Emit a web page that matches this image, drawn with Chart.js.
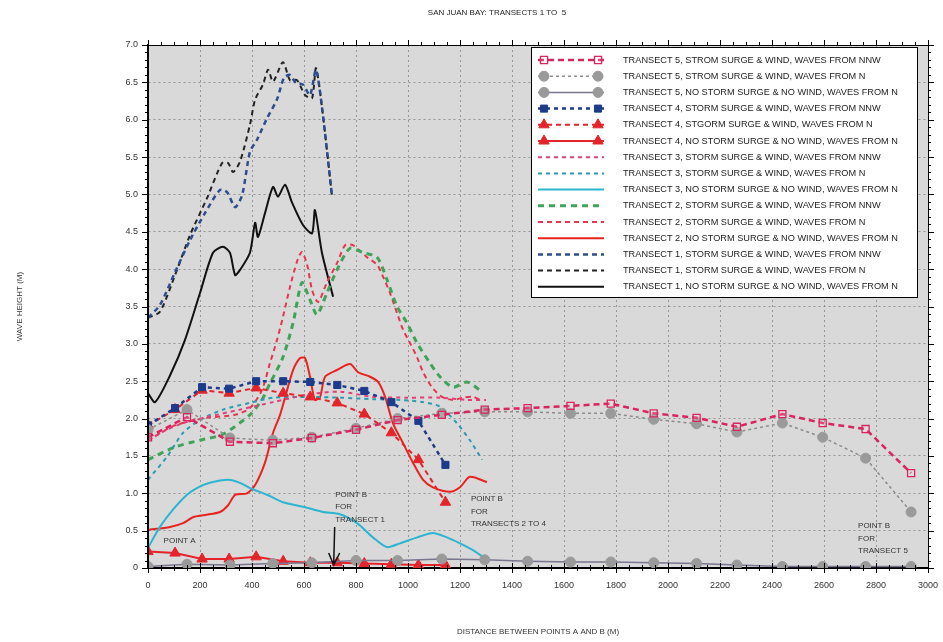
<!DOCTYPE html>
<html>
<head>
<meta charset="utf-8">
<title>San Juan Bay: Transects 1 to 5</title>
<script src="https://cdn.jsdelivr.net/npm/chart.js@4.4.1/dist/chart.umd.min.js"></script>
<style>
  html, body { margin: 0; padding: 0; background: #fff; }
  #wrap { width: 943px; height: 642px; }
</style>
</head>
<body>
<div id="wrap"><canvas id="waveChart"></canvas></div>
<script>
// distances (m) and wave heights (m)
const t5Dist = [0, 150, 315, 480, 630, 800, 960, 1130, 1295, 1460, 1625, 1780, 1945, 2110, 2265, 2440, 2595, 2760, 2935];
const t5NNW = [1.75, 2.02, 1.69, 1.67, 1.74, 1.85, 1.98, 2.05, 2.12, 2.14, 2.17, 2.20, 2.07, 2.01, 1.89, 2.06, 1.94, 1.86, 1.27];
const t5N = [1.85, 2.12, 1.74, 1.71, 1.75, 1.87, 2.00, 2.07, 2.09, 2.09, 2.07, 2.07, 1.99, 1.93, 1.82, 1.94, 1.75, 1.47, 0.75];
const t5Calm = [0.02, 0.05, 0.04, 0.06, 0.07, 0.10, 0.10, 0.12, 0.11, 0.09, 0.08, 0.08, 0.07, 0.06, 0.04, 0.02, 0.02, 0.02, 0.02];

const t4Dist = [0, 104, 208, 312, 416, 520, 624, 728, 832, 936, 1040, 1144];
const t4NNW = [1.91, 2.14, 2.42, 2.40, 2.50, 2.50, 2.49, 2.45, 2.37, 2.22, 1.97, 1.38];
const t4N = [1.91, 2.12, 2.38, 2.34, 2.41, 2.34, 2.29, 2.21, 2.06, 1.81, 1.45, 0.88];
const t4Calm = [0.22, 0.20, 0.12, 0.12, 0.15, 0.09, 0.07, 0.07, 0.06, 0.05, 0.04, 0.04];

const t3NNWDist = [0, 73, 135, 227, 354, 481, 612, 738, 865, 996, 1123, 1227, 1300];
const t3NNW = [1.71, 1.85, 1.94, 2.02, 2.12, 2.22, 2.32, 2.36, 2.29, 2.28, 2.28, 2.25, 2.25];
const t3NDist = [0, 73, 135, 200, 288, 392, 481, 612, 738, 865, 969, 1058, 1123, 1188, 1238, 1285];
const t3N = [1.18, 1.49, 1.81, 1.98, 2.12, 2.21, 2.28, 2.29, 2.28, 2.26, 2.25, 2.22, 2.16, 1.94, 1.71, 1.45];
const t3CalmDist = [0, 46, 96, 150, 188, 238, 308, 354, 392, 458, 519, 596, 673, 738, 804, 865, 919, 969, 1035, 1096, 1150, 1200, 1250, 1288];
const t3Calm = [0.27, 0.55, 0.78, 0.98, 1.07, 1.14, 1.18, 1.14, 1.07, 0.98, 0.88, 0.82, 0.75, 0.72, 0.60, 0.41, 0.28, 0.33, 0.41, 0.47, 0.41, 0.33, 0.24, 0.15];

const t2NNWDist = [0, 104, 200, 288, 392, 438, 469, 519, 558, 592, 623, 650, 688, 727, 777, 827, 881, 919, 958, 996, 1035, 1085, 1123, 1173, 1227, 1277];
const t2NNW = [1.45, 1.62, 1.71, 1.79, 2.05, 2.25, 2.47, 2.82, 3.28, 3.82, 3.59, 3.39, 3.68, 3.99, 4.28, 4.22, 4.16, 3.86, 3.50, 3.28, 3.01, 2.74, 2.56, 2.42, 2.49, 2.38];
const t2NDist = [0, 104, 227, 335, 392, 438, 469, 496, 519, 546, 573, 592, 612, 631, 654, 688, 727, 758, 788, 842, 881, 904, 931, 958, 981, 1008, 1035, 1058, 1092, 1131, 1173, 1212, 1250, 1277];
const t2N = [1.71, 1.91, 2.01, 2.05, 2.14, 2.38, 2.74, 3.05, 3.36, 3.76, 4.10, 4.23, 4.06, 3.72, 3.56, 3.82, 4.08, 4.32, 4.32, 4.16, 4.06, 3.90, 3.68, 3.41, 3.19, 3.01, 2.82, 2.62, 2.42, 2.29, 2.25, 2.28, 2.29, 2.25];
const t2CalmDist = [0, 85, 135, 173, 219, 277, 308, 335, 381, 412, 450, 481, 508, 535, 558, 585, 604, 623, 642, 662, 681, 727, 777, 808, 854, 885, 912, 942, 981, 1019, 1058, 1096, 1162, 1200, 1238, 1304];
const t2Calm = [0.51, 0.55, 0.60, 0.68, 0.71, 0.75, 0.84, 0.98, 1.00, 1.11, 1.41, 1.81, 2.05, 2.38, 2.65, 2.81, 2.81, 2.56, 2.25, 2.29, 2.56, 2.65, 2.73, 2.62, 2.56, 2.49, 2.29, 1.94, 1.67, 1.41, 1.18, 1.08, 1.02, 1.08, 1.22, 1.15];

const t1NNWDist = [0, 46, 104, 162, 219, 277, 304, 335, 362, 392, 419, 458, 496, 523, 546, 569, 596, 623, 646, 669, 708];
const t1NNW = [3.35, 3.52, 3.96, 4.39, 4.75, 5.06, 5.03, 4.83, 4.99, 5.57, 5.73, 6.02, 6.27, 6.56, 6.60, 6.49, 6.47, 6.33, 6.67, 6.17, 4.97];
const t1NDist = [0, 46, 104, 162, 227, 285, 308, 327, 354, 392, 412, 442, 462, 481, 519, 546, 573, 604, 631, 646, 669, 708];
const t1N = [3.35, 3.43, 3.92, 4.46, 4.95, 5.42, 5.42, 5.30, 5.44, 5.93, 6.27, 6.47, 6.67, 6.51, 6.77, 6.53, 6.53, 6.33, 6.29, 6.69, 6.17, 4.97];
const t1CalmDist = [0, 27, 85, 142, 200, 250, 288, 315, 335, 354, 392, 412, 423, 450, 481, 500, 527, 554, 596, 631, 642, 669, 712];
const t1Calm = [2.34, 2.22, 2.58, 3.05, 3.68, 4.22, 4.30, 4.22, 3.92, 3.99, 4.22, 4.62, 4.43, 4.75, 5.10, 4.97, 5.13, 4.89, 4.59, 4.48, 4.79, 4.22, 3.63];

const xTicks = { min: 0, max: 3000, step: 200, minor: 50 };
const yTicks = { min: 0, max: 7, step: 0.5, minor: 0.1 };

const FONT = '"Liberation Sans", Arial, sans-serif';
const pairs = (xs, ys) => xs.map((x, i) => ({ x: x, y: ys[i] }));

function series(label, xs, ys, color, dash, width, marker) {
  const ds = {
    label: label,
    data: pairs(xs, ys),
    borderColor: color,
    borderWidth: width,
    borderDash: dash,
    tension: marker ? 0 : 0.25,
    pointRadius: 0,
    fill: false
  };
  if (marker) {
    ds.pointStyle = marker.style;
    ds.pointRadius = marker.radius;
    ds.pointBackgroundColor = marker.fill;
    ds.pointBorderColor = marker.stroke;
    ds.pointBorderWidth = marker.border;
  }
  return ds;
}

const openSquare = { style: 'rect', radius: 5, fill: 'rgba(255,255,255,0.15)', stroke: '#d9245e', border: 1.3 };
const grayDot = { style: 'circle', radius: 5, fill: '#9a9a9a', stroke: '#9a9a9a', border: 1 };
const blueSquare = { style: 'rect', radius: 5, fill: '#1c3b8a', stroke: '#1c3b8a', border: 1 };
const redTriangle = { style: 'triangle', radius: 6, fill: '#e3242b', stroke: '#e3242b', border: 1 };

const datasets = [
  series('TRANSECT 5, STROM SURGE & WIND, WAVES FROM NNW', t5Dist, t5NNW, '#d9245e', [6, 4], 2.5, openSquare),
  series('TRANSECT 5, STROM SURGE & WIND, WAVES FROM N', t5Dist, t5N, '#8c8c8c', [3, 3], 1.5, grayDot),
  series('TRANSECT 5, NO STORM SURGE & NO WIND, WAVES FROM N', t5Dist, t5Calm, '#7a7590', [], 1.5, grayDot),
  series('TRANSECT 4, STORM SURGE & WIND, WAVES FROM NNW', t4Dist, t4NNW, '#1f3c88', [4, 4], 2.5, blueSquare),
  series('TRANSECT 4, STGORM SURGE & WIND, WAVES FROM N', t4Dist, t4N, '#e3242b', [5, 4], 2, redTriangle),
  series('TRANSECT 4, NO STORM SURGE & NO WIND, WAVES FROM N', t4Dist, t4Calm, '#e3242b', [], 2, redTriangle),
  series('TRANSECT 3, STORM SURGE & WIND, WAVES FROM NNW', t3NNWDist, t3NNW, '#e0407a', [4, 4], 2, null),
  series('TRANSECT 3, STORM SURGE & WIND, WAVES FROM N', t3NDist, t3N, '#2a9bb0', [4, 4], 2, null),
  series('TRANSECT 3, NO STORM SURGE & NO WIND, WAVES FROM N', t3CalmDist, t3Calm, '#2bb5d0', [], 2, null),
  series('TRANSECT 2, STORM SURGE & WIND, WAVES FROM NNW', t2NNWDist, t2NNW, '#3fa457', [6, 5], 3, null),
  series('TRANSECT 2, STORM SURGE & WIND, WAVES FROM N', t2NDist, t2N, '#e8344e', [5, 4], 2, null),
  series('TRANSECT 2, NO STORM SURGE & NO WIND, WAVES FROM N', t2CalmDist, t2Calm, '#e8231f', [], 2, null),
  series('TRANSECT 1, STORM SURGE & WIND, WAVES FROM NNW', t1NNWDist, t1NNW, '#2c4d8f', [5, 4], 2.5, null),
  series('TRANSECT 1, STORM SURGE & WIND, WAVES FROM N', t1NDist, t1N, '#222222', [5, 4], 2, null),
  series('TRANSECT 1, NO STORM SURGE & NO WIND, WAVES FROM N', t1CalmDist, t1Calm, '#111111', [], 2, null)
];

// text notes on the plot, anchored in data units
const notes = [
  { x: 60, y: 0.37, lines: ['POINT A'] },
  { x: 720, y: 0.98, lines: ['POINT B', 'FOR', 'TRANSECT 1'] },
  { x: 1242, y: 0.92, lines: ['POINT B', 'FOR', 'TRANSECTS 2 TO 4'] },
  { x: 2731, y: 0.56, lines: ['POINT B', 'FOR', 'TRANSECT 5'] }
];
const arrow = { x: 718, from: 0.55, to: 0.04 };

const plotBackground = {
  id: 'plotBackground',
  beforeDraw(chart) {
    const { ctx, chartArea: a } = chart;
    ctx.save();
    ctx.fillStyle = '#d9d9d9';
    ctx.fillRect(a.left, a.top, a.right - a.left, a.bottom - a.top);
    ctx.restore();
  }
};

const frameTicks = {
  id: 'frameTicks',
  afterDraw(chart) {
    const { ctx, chartArea: a, scales: { x, y } } = chart;
    ctx.save();
    ctx.strokeStyle = '#000';
    ctx.lineWidth = 1;
    ctx.strokeRect(a.left + 0.5, a.top + 0.5, a.right - a.left, a.bottom - a.top);
    ctx.beginPath();
    const nx = Math.round((xTicks.max - xTicks.min) / xTicks.minor);
    for (let k = 0; k <= nx; k++) {
      const v = xTicks.min + k * xTicks.minor;
      const px = Math.round(x.getPixelForValue(v)) + 0.5;
      const len = (v % xTicks.step === 0) ? 5 : 3;
      ctx.moveTo(px, a.bottom - len); ctx.lineTo(px, a.bottom + len);
      ctx.moveTo(px, a.top); ctx.lineTo(px, a.top - len);
    }
    const ny = Math.round((yTicks.max - yTicks.min) / yTicks.minor);
    for (let k = 0; k <= ny; k++) {
      const py = Math.round(y.getPixelForValue(yTicks.min + k * yTicks.minor)) + 0.5;
      const len = (k % 5 === 0) ? 6 : 3;
      ctx.moveTo(a.left - len, py); ctx.lineTo(a.left, py);
      ctx.moveTo(a.right, py); ctx.lineTo(a.right + len, py);
    }
    ctx.stroke();
    ctx.restore();
  }
};

const plotNotes = {
  id: 'plotNotes',
  afterDatasetsDraw(chart) {
    const { ctx, scales: { x, y } } = chart;
    ctx.save();
    ctx.fillStyle = '#333';
    ctx.font = '8px ' + FONT;
    ctx.textBaseline = 'middle';
    notes.forEach(n => {
      const px = x.getPixelForValue(n.x);
      const py = y.getPixelForValue(n.y);
      n.lines.forEach((t, i) => ctx.fillText(t, px, py + i * 12.5));
    });
    const ax = x.getPixelForValue(arrow.x);
    const y0 = y.getPixelForValue(arrow.from);
    const y1 = y.getPixelForValue(arrow.to);
    ctx.strokeStyle = '#111';
    ctx.lineWidth = 1.5;
    ctx.beginPath();
    ctx.moveTo(ax, y0); ctx.lineTo(ax - 1, y1);
    ctx.moveTo(ax - 6, y1 - 12); ctx.lineTo(ax - 1, y1); ctx.lineTo(ax + 5, y1 - 12);
    ctx.stroke();

    // title over the plot
    ctx.fillStyle = '#222';
    ctx.textAlign = 'center';
    ctx.fillText('SAN JUAN BAY: TRANSECTS 1 TO  5', 497, 13);
    ctx.restore();
  }
};

const legendBox = {
  id: 'legendBox',
  afterDraw(chart) {
    const { ctx, chartArea } = chart;
    const w = 386, h = 250;
    const x0 = chartArea.right - 11 - w, y0 = chartArea.top + 2;
    ctx.save();
    ctx.fillStyle = '#fff';
    ctx.fillRect(x0, y0, w, h);
    ctx.strokeStyle = '#000';
    ctx.lineWidth = 1;
    ctx.strokeRect(x0 + 0.5, y0 + 0.5, w, h);
    ctx.font = '9.2px ' + FONT;
    ctx.textBaseline = 'middle';
    chart.data.datasets.forEach((ds, i) => {
      const ly = y0 + 13 + i * 16.2;
      const xa = x0 + 13, xb = x0 + 67;
      ctx.strokeStyle = ds.borderColor;
      ctx.lineWidth = ds.borderWidth;
      ctx.setLineDash(ds.borderDash || []);
      ctx.beginPath();
      ctx.moveTo(xa - 6, ly); ctx.lineTo(xb + 6, ly);
      ctx.stroke();
      ctx.setLineDash([]);
      if (ds.pointRadius > 0) {
        [xa, xb].forEach(px => {
          ctx.fillStyle = ds.pointBackgroundColor;
          ctx.strokeStyle = ds.pointBorderColor;
          ctx.lineWidth = ds.pointBorderWidth;
          Chart.helpers.drawPoint(ctx, {
            pointStyle: ds.pointStyle, radius: ds.pointRadius, rotation: 0, borderWidth: ds.pointBorderWidth
          }, px, ly);
        });
      }
      ctx.fillStyle = '#222';
      ctx.fillText(ds.label, x0 + 92, ly);
    });
    ctx.restore();
  }
};

const ctx = document.getElementById('waveChart').getContext('2d');
new Chart(ctx, {
  type: 'line',
  data: { datasets: datasets },
  options: {
    responsive: true,
    maintainAspectRatio: false,
    animation: false,
    events: [],
    layout: { padding: { left: 0, top: 45, right: 0, bottom: 0 } },
    scales: {
      x: {
        type: 'linear',
        min: xTicks.min,
        max: xTicks.max,
        ticks: {
          stepSize: xTicks.step, maxTicksLimit: 100, padding: 12, color: '#333', font: { size: 9, family: FONT }, maxRotation: 0,
          callback: v => String(v)
        },
        grid: { color: 'rgba(105,105,105,0.6)', drawTicks: false },
        border: { display: true, color: '#000', width: 1.5, dash: [2, 3] },
        title: { display: true, text: 'DISTANCE BETWEEN POINTS A AND B (M)', color: '#333', font: { size: 8, family: FONT }, padding: { top: 0, bottom: 5 } },
        afterFit(scale) {
          scale.height = 74;
          scale.paddingLeft = 0;
          scale.paddingRight = 15;
        }
      },
      y: {
        min: yTicks.min,
        max: yTicks.max,
        ticks: {
          stepSize: yTicks.step, maxTicksLimit: 100, padding: 10, color: '#333', font: { size: 9, family: FONT },
          callback: v => (v === 0 ? '0' : v.toFixed(1))
        },
        grid: { color: 'rgba(105,105,105,0.6)', drawTicks: false },
        border: { display: true, color: '#000', width: 1.5, dash: [2, 3] },
        title: { display: true, text: 'WAVE HEIGHT (M)', color: '#333', font: { size: 8, family: FONT }, padding: { top: 15, bottom: 0 } },
        afterFit(scale) { scale.width = 148; }
      }
    },
    plugins: {
      legend: { display: false },
      title: { display: false },
      tooltip: { enabled: false }
    }
  },
  plugins: [plotBackground, plotNotes, frameTicks, legendBox]
});
</script>
</body>
</html>
